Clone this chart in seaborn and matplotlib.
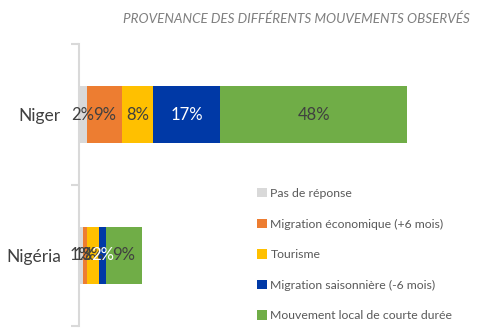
import matplotlib
matplotlib.use("Agg")
import matplotlib.pyplot as plt
from matplotlib.patches import Patch
import numpy as np
import pandas as pd
import seaborn as sns

sns.set_theme(style="white")
plt.rcParams["font.family"] = ["Lato", "DejaVu Sans"]

countries = ["Niger", "Nigéria"]
series = [
    "Pas de réponse",
    "Migration économique (+6 mois)",
    "Tourisme",
    "Migration saisonnière (-6 mois)",
    "Mouvement local de courte durée",
]
pas_de_reponse = [2, 1]
migration_economique = [9, 1]
tourisme = [8, 3]
migration_saisonniere = [17, 2]
mouvement_local = [48, 9]
colors = ["#D9D9D9", "#ED7D31", "#FFC000", "#0039A6", "#70AD47"]
label_colors = ["#404040", "#404040", "#404040", "#FFFFFF", "#404040"]

values = np.array([pas_de_reponse, migration_economique, tourisme,
                   migration_saisonniere, mouvement_local], dtype=float)
cum = values.cumsum(axis=0)

fig = plt.figure(figsize=(4.8, 3.32), dpi=100)
ax = fig.add_axes([79 / 480, 1 - 326 / 332, (470 - 79) / 480, (326 - 44) / 332])

# stacked bars: draw cumulative totals from the outermost segment inward
for i in range(len(series) - 1, -1, -1):
    df = pd.DataFrame({"pays": countries, "total": cum[i]})
    sns.barplot(data=df, x="total", y="pays", order=countries, color=colors[i],
                width=0.4, saturation=1, ax=ax, linewidth=0)

for i in range(len(series)):
    for j, c in enumerate(countries):
        v = values[i, j]
        ax.text(cum[i, j] - v / 2, j, f"{v:.0f}%", ha="center", va="center",
                fontsize=12, color=label_colors[i])

ax.set_xlim(0, 100)
ax.set_ylim(1.5, -0.5)
ax.set_xlabel("")
ax.set_ylabel("")
ax.set_xticks([])
ax.set_yticks([-0.5, 0.5, 1.5], minor=False)
ax.set_yticklabels([])
ax.set_yticks([0, 1], minor=True)
ax.set_yticklabels(countries, minor=True, fontsize=12.5, color="#404040")
ax.tick_params(axis="y", which="major", length=6, width=1.5, color="#D9D9D9", left=True)
ax.tick_params(axis="y", which="minor", length=0, pad=13)
for s in ["top", "right", "bottom"]:
    ax.spines[s].set_visible(False)
ax.spines["left"].set_color("#D9D9D9")
ax.spines["left"].set_linewidth(1.5)

fig.text(296 / 480, 1 - 19 / 332, "PROVENANCE DES DIFFÉRENTS MOUVEMENTS OBSERVÉS",
         ha="center", va="center", fontsize=9.7, style="italic", color="#7F7F7F")

handles = [Patch(facecolor=c, edgecolor="none") for c in colors]
fig.legend(handles, series, loc="upper left", bbox_to_anchor=(257 / 480, 1 - 188 / 332),
           frameon=False, fontsize=8.8, labelspacing=1.6, handlelength=0.8,
           handleheight=0.8, handletextpad=0.3, labelcolor="#595959",
           borderaxespad=0, borderpad=0)

fig.savefig("out.png", dpi=100)
